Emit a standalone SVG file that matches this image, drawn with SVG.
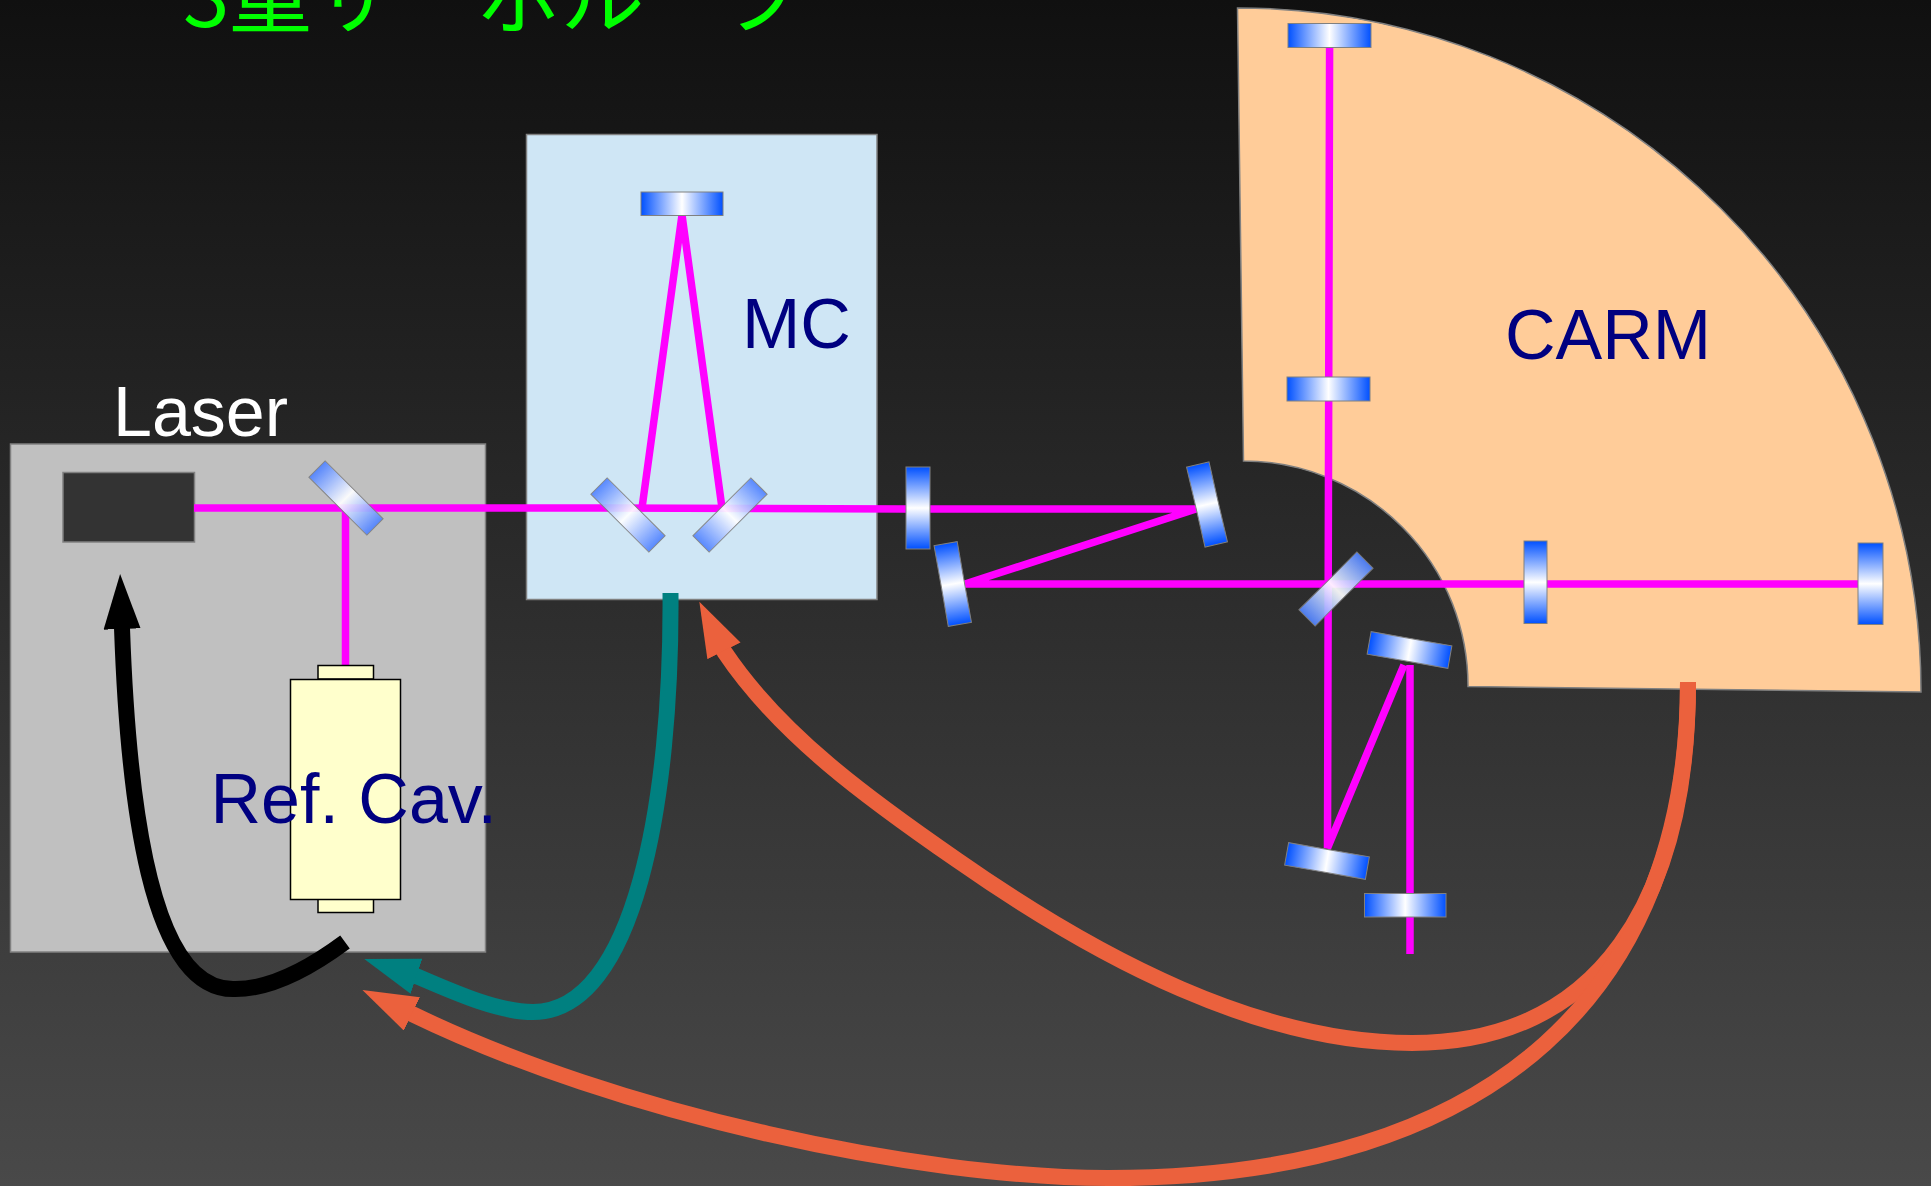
<svg xmlns="http://www.w3.org/2000/svg" width="1931" height="1186" viewBox="0 0 1931 1186">
<defs>
<linearGradient id="bg" x1="0" y1="0" x2="0" y2="1"><stop offset="0" stop-color="#101010"/><stop offset="1" stop-color="#494949"/></linearGradient>
<linearGradient id="mh" x1="0" y1="0" x2="1" y2="0"><stop offset="0" stop-color="#0050ff"/><stop offset=".5" stop-color="#fff"/><stop offset="1" stop-color="#0050ff"/></linearGradient>
<linearGradient id="mv" x1="0" y1="0" x2="0" y2="1"><stop offset="0" stop-color="#0050ff"/><stop offset=".5" stop-color="#fff"/><stop offset="1" stop-color="#0050ff"/></linearGradient>
<linearGradient id="mb" x1="0" y1="0" x2="1" y2="0"><stop offset="0" stop-color="#4f82ff"/><stop offset=".5" stop-color="#fff"/><stop offset="1" stop-color="#4f82ff"/></linearGradient>
<marker id="aT" markerUnits="userSpaceOnUse" markerWidth="56" markerHeight="38" refX="1" refY="18.500" orient="auto"><path d="M0 0L55 18.500L0 37z" fill="#008080"/></marker>
<marker id="aO" markerUnits="userSpaceOnUse" markerWidth="56" markerHeight="38" refX="1" refY="18.500" orient="auto"><path d="M0 0L55 18.500L0 37z" fill="#eb613d"/></marker>
<marker id="aK" markerUnits="userSpaceOnUse" markerWidth="56" markerHeight="38" refX="1" refY="18.500" orient="auto"><path d="M0 0L55 18.500L0 37z" fill="#000"/></marker>
</defs>
<style>
.lbl{font-family:"Liberation Sans",Arial,sans-serif;font-size:70px;fill:#000080}
.box{stroke:#808080;stroke-width:1.5}
.b{fill:none;stroke:#f0f;stroke-width:7.5}
.mh{fill:url(#mh);stroke:#808080;stroke-width:1}
.mv{fill:url(#mv);stroke:#808080;stroke-width:1}
.bs{fill:url(#mb);stroke:#808080;stroke-width:1;opacity:.92}
.c{fill:none;stroke-width:16}
.cav{fill:#ffc;stroke:#000;stroke-width:1.5}
</style>
<rect width="1931" height="1186" fill="url(#bg)"/>
<text id="title" x="183" y="27" font-family="'Noto Sans CJK JP','Liberation Sans',sans-serif" font-size="84" letter-spacing="-1" fill="#0f0">3重サーボループ</text>

<g id="laser-box"><rect class="box" x="10.500" y="444" width="475" height="508" fill="#c0c0c0"/><text x="113" y="436" class="lbl" style="fill:#fff">Laser</text></g>
<g id="mc-box"><rect class="box" x="526.500" y="134.500" width="350.500" height="465" fill="#cfe6f5"/><text x="742" y="348" class="lbl">MC</text></g>
<g id="carm-box"><path class="box" d="M1237.500 8A684 684 0 0 1 1921 692L1468 686.500A225 225 0 0 0 1243.500 461Z" fill="#fc9"/><text x="1505" y="359" class="lbl">CARM</text></g>
<g id="laser-source"><rect class="box" x="63" y="472.500" width="131.500" height="69.500" fill="#333"/></g>

<g id="beams">
<path class="b" d="M194 508H600L906 509H1196L965 584H1858"/>
<path class="b" d="M345.500 508V666"/>
<path class="b" d="M642 508L682 215L722 508"/>
<path class="b" d="M1329.600 47L1327.500 848L1404 665"/>
<path class="b" d="M1410 665V954"/>
</g>

<g id="ref-cav"><rect class="cav" x="318" y="665.500" width="55.500" height="13.500"/><rect class="cav" x="318" y="899" width="55.500" height="13.500"/><rect class="cav" x="290.500" y="679.500" width="110" height="220"/></g>

<g id="m-laser-bs"><rect class="bs" x="305" y="486.500" width="82" height="23" transform="rotate(45 346 498)"/></g>
<g id="m-mc-top"><rect class="mh" x="641" y="192" width="82" height="23.500"/></g>
<g id="m-mc-left"><rect class="bs" x="587" y="503.500" width="82" height="23" transform="rotate(45 628 515)"/></g>
<g id="m-mc-right"><rect class="bs" x="689" y="503.500" width="82" height="23" transform="rotate(-45 730 515)"/></g>
<g id="m-rm1"><rect class="mv" x="906" y="467" width="24" height="82"/></g>
<g id="m-rm2"><rect class="mv" x="1195.500" y="463.500" width="23" height="82" transform="rotate(-13 1207 504.500)"/></g>
<g id="m-rm3"><rect class="mv" x="941" y="543" width="23.500" height="82" transform="rotate(-10 952.700 584)"/></g>
<g id="m-bs"><rect class="bs" x="1295" y="577.500" width="82" height="23" transform="rotate(-45 1336 589)"/></g>
<g id="m-iy"><rect class="mh" x="1287" y="377" width="83" height="24"/></g>
<g id="m-ey"><rect class="mh" x="1288" y="23.500" width="83" height="24"/></g>
<g id="m-ix"><rect class="mv" x="1524" y="541" width="23" height="82.500"/></g>
<g id="m-ex"><rect class="mv" x="1858" y="543" width="25" height="81.500"/></g>
<g id="m-s1"><rect class="mh" x="1368.500" y="638.500" width="82" height="23" transform="rotate(10 1409.500 650)"/></g>
<g id="m-s2"><rect class="mh" x="1286" y="849.500" width="82" height="23" transform="rotate(10 1327 861)"/></g>
<g id="m-s3"><rect class="mh" x="1364.500" y="893.500" width="81.500" height="23.500"/></g>

<text id="ref-label" x="210.500" y="823" class="lbl">Ref. Cav.</text>

<g id="connectors">
<path class="c" stroke="#000" marker-end="url(#aK)" d="M345 942C310 968 270 990 233 989C150 989 128 800 122 628"/>
<path class="c" stroke="#008080" marker-end="url(#aT)" d="M670.500 593C672 800 635 1012 533 1012C500 1012 460 995 418.500 977l-3 -1"/>
<path class="c" stroke="#eb613d" marker-end="url(#aO)" d="M1688 682C1688 900 1600 1043 1412 1043C1260 1043 1100 960 957 860C870 800 780 735 724.500 652l-1 -2"/>
<path class="c" stroke="#eb613d" marker-end="url(#aO)" d="M1688 682C1688 985 1500 1178 1108 1178C920 1178 620 1115 411 1013.500"/>
</g>
</svg>
